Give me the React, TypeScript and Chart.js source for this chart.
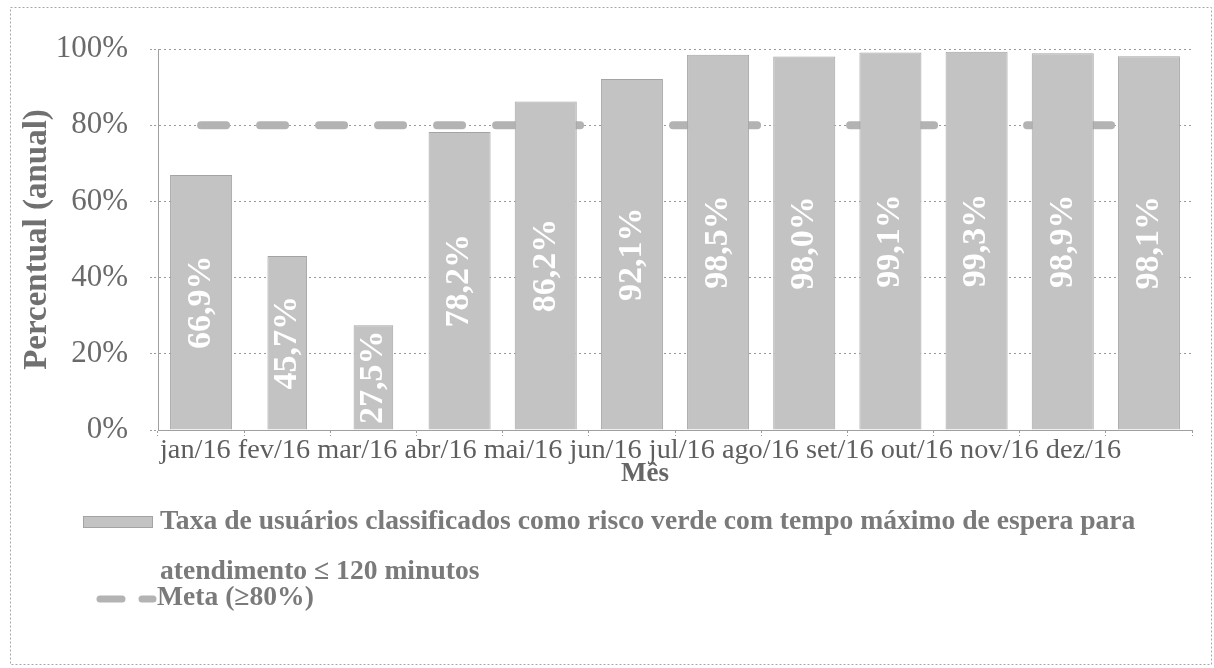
import { useEffect, useRef } from 'react';
import { Chart, registerables } from 'chart.js';

Chart.register(...registerables);

const categories = ['jan/16', 'fev/16', 'mar/16', 'abr/16', 'mai/16', 'jun/16', 'jul/16', 'ago/16', 'set/16', 'out/16', 'nov/16', 'dez/16'];
const taxaValues = [66.9, 45.7, 27.5, 78.2, 86.2, 92.1, 98.5, 98.0, 99.1, 99.3, 98.9, 98.1];
const metaValues = [80, 80, 80, 80, 80, 80, 80, 80, 80, 80, 80, 80];
const yTickValues = [0, 20, 40, 60, 80, 100];
const taxaLabel = 'Taxa de usuários classificados como risco verde com tempo máximo de espera para atendimento ≤ 120 minutos';
const metaLabel = 'Meta (≥80%)';
const xTitle = 'Mês';
const yTitle = 'Percentual (anual)';
// months whose bars are drawn narrower in the reference
const narrowCategories = ['fev/16', 'mar/16'];

const SERIF = '"Liberation Serif", "Times New Roman", serif';
const BAR_FILL = '#c3c3c3';
const BAR_EDGE = '#a4a4a4';
const META_COLOR = '#b3b3b3';
const GRID_COLOR = '#9a9a9a';

const fmt = (v: number) => v.toFixed(1).replace('.', ',') + '%';

const decorPlugin = {
  id: 'decor',
  afterDatasetsDraw(chart: any) {
    const ctx = chart.ctx;
    chart.data.datasets.forEach((ds: any, di: number) => {
      if (ds.type === 'line') return;
      const meta = chart.getDatasetMeta(di);
      meta.data.forEach((el: any, i: number) => {
        const v = ds.data[i];
        if (v == null) return;
        const { x, y, base } = el.getProps(['x', 'y', 'base'], true);
        ctx.save();
        ctx.translate(x, (y + base) / 2);
        ctx.rotate(-Math.PI / 2);
        ctx.font = `bold 34px ${SERIF}`;
        ctx.fillStyle = '#ffffff';
        ctx.textAlign = 'center';
        ctx.textBaseline = 'middle';
        ctx.fillText(fmt(v), 0, 0);
        ctx.restore();
      });
    });
  },
  afterDraw(chart: any) {
    const ctx = chart.ctx;
    const area = chart.chartArea;
    ctx.save();
    // outer frame
    ctx.strokeStyle = '#a8a8a8';
    ctx.lineWidth = 1;
    ctx.setLineDash([2, 2]);
    ctx.strokeRect(10.5, 7.5, 1201, 657);
    ctx.setLineDash([]);

    // category labels, set as one line of text as in the reference
    ctx.font = `28.3px ${SERIF}`;
    ctx.fillStyle = '#5e5e5e';
    ctx.textAlign = 'left';
    ctx.textBaseline = 'middle';
    ctx.fillText((chart.data.labels as string[]).join(' '), area.left + 2, 451);

    // x title
    ctx.font = `bold 27px ${SERIF}`;
    ctx.fillStyle = '#666666';
    ctx.textAlign = 'center';
    ctx.fillText(xTitle, 645, 474);

    // legend
    const legendX = 160;
    ctx.font = `bold 27.6px ${SERIF}`;
    ctx.textAlign = 'left';
    const words = taxaLabel.split(' ');
    const lines: string[] = [];
    let cur = '';
    words.forEach((w) => {
      const t = cur ? cur + ' ' + w : w;
      if (ctx.measureText(t).width > 1010 && cur) {
        lines.push(cur);
        cur = w;
      } else cur = t;
    });
    if (cur) lines.push(cur);
    ctx.fillStyle = BAR_FILL;
    ctx.fillRect(83, 516, 70, 12);
    ctx.strokeStyle = BAR_EDGE;
    ctx.strokeRect(83.5, 516.5, 69, 11);
    ctx.fillStyle = '#7a7a7a';
    lines.forEach((l, i) => ctx.fillText(l, legendX, 522 + i * 50));

    const metaY = 522 + lines.length * 50 - 24;
    ctx.strokeStyle = META_COLOR;
    ctx.lineWidth = 7;
    ctx.lineCap = 'round';
    ctx.setLineDash([22, 20]);
    ctx.beginPath();
    ctx.moveTo(100, metaY + 1);
    ctx.lineTo(153, metaY + 1);
    ctx.stroke();
    ctx.setLineDash([]);
    ctx.fillStyle = '#7a7a7a';
    ctx.fillText(metaLabel, 157, metaY);
    ctx.restore();
  },
};

export default function App() {
  const canvasRef = useRef<HTMLCanvasElement | null>(null);

  useEffect(() => {
    const canvas = canvasRef.current;
    if (!canvas) return;
    const wide = taxaValues.map((v, i) => (narrowCategories.includes(categories[i]) ? null : v));
    const narrow = taxaValues.map((v, i) => (narrowCategories.includes(categories[i]) ? v : null));

    const chart = new Chart(canvas, {
      type: 'bar',
      data: {
        labels: categories,
        datasets: [
          {
            label: taxaLabel,
            data: wide,
            backgroundColor: BAR_FILL,
            borderColor: BAR_EDGE,
            borderWidth: 1,
            barPercentage: 0.72,
            categoryPercentage: 1,
            grouped: false,
            order: 1,
          } as any,
          {
            label: taxaLabel,
            data: narrow,
            backgroundColor: BAR_FILL,
            borderColor: BAR_EDGE,
            borderWidth: 1,
            barPercentage: 0.46,
            categoryPercentage: 1,
            grouped: false,
            order: 1,
          } as any,
          {
            type: 'line',
            label: metaLabel,
            data: metaValues,
            borderColor: META_COLOR,
            backgroundColor: META_COLOR,
            borderWidth: 8,
            borderDash: [25, 34],
            borderCapStyle: 'round',
            pointRadius: 0,
            fill: false,
            tension: 0,
            order: 3,
          } as any,
        ],
      },
      options: {
        responsive: false,
        animation: false,
        layout: { padding: { left: 0, top: 49, right: 22, bottom: 0 } },
        plugins: {
          legend: { display: false },
          title: { display: false },
          tooltip: { enabled: false },
        },
        scales: {
          x: {
            offset: true,
            grid: {
              display: true,
              offset: true,
              drawOnChartArea: false,
              drawTicks: true,
              tickLength: 6,
              tickColor: GRID_COLOR,
              tickBorderDash: [2, 2],
            },
            border: { display: true, color: '#a0a0a0', width: 1 },
            ticks: { display: false },
            afterFit: (scale: any) => {
              scale.height = 238;
            },
          },
          y: {
            min: 0,
            max: 100,
            afterBuildTicks: (scale: any) => {
              scale.ticks = yTickValues.map((v) => ({ value: v }));
            },
            ticks: {
              callback: (v: any) => v + '%',
              font: { family: SERIF, size: 31 },
              color: '#6a6a6a',
              padding: 22,
            },
            grid: {
              color: GRID_COLOR,
              lineWidth: 1,
              drawTicks: true,
              tickLength: 8,
              tickColor: GRID_COLOR,
              tickBorderDash: [2, 2],
            },
            border: { display: true, color: '#a0a0a0', width: 1, dash: [2, 3] },
            title: {
              display: true,
              text: yTitle,
              font: { family: SERIF, size: 33, weight: 'bold' },
              color: '#707070',
              padding: { top: 18, bottom: 0 },
            },
            afterFit: (scale: any) => {
              scale.width = 158;
            },
          },
        },
      },
      plugins: [decorPlugin],
    });
    return () => chart.destroy();
  }, []);

  return (
    <div style={{ position: 'absolute', left: 0, top: 0, width: 1214, height: 668, background: '#fff' }}>
      <canvas ref={canvasRef} width={1214} height={668} style={{ display: 'block' }} />
    </div>
  );
}
